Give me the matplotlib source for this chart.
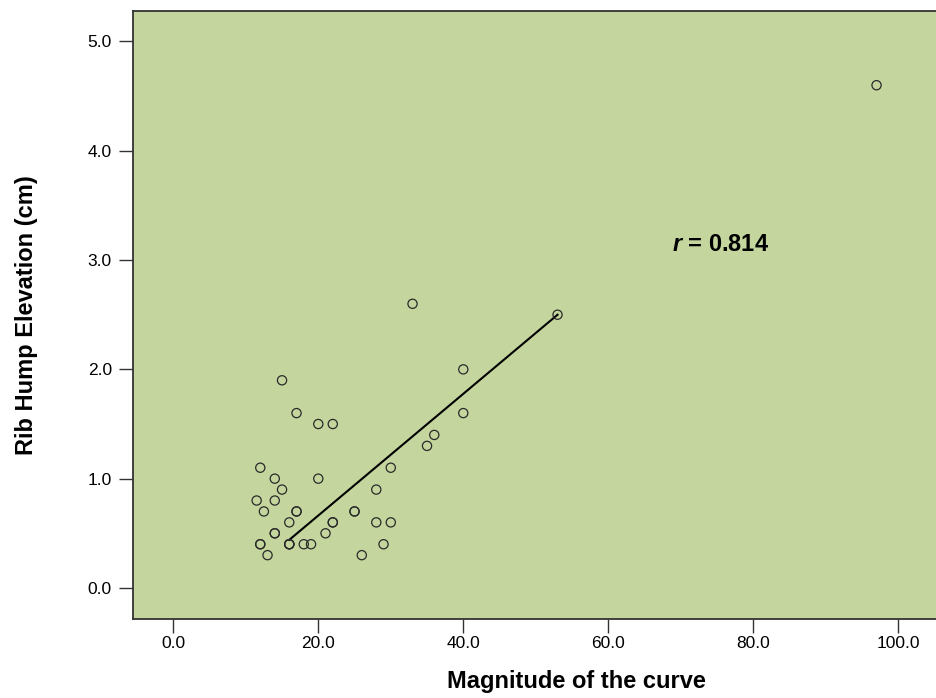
import numpy as np
import matplotlib.pyplot as plt

plt.rcParams['font.family'] = ['Liberation Sans', 'DejaVu Sans']
plt.rcParams['mathtext.fontset'] = 'custom'
plt.rcParams['mathtext.it'] = 'Liberation Sans:italic:bold'
plt.rcParams['mathtext.rm'] = 'Liberation Sans:bold'

# --- dados ---
curve = [97, 33, 53, 40, 40, 36, 35, 30, 28, 30, 28, 29, 26, 25, 25, 22, 22, 21,
         22, 20, 20, 17, 15, 19, 18, 16, 16, 16, 16, 17, 17, 15, 14, 14, 14, 14,
         12, 11.5, 12.5, 12, 12, 13]
hump = [4.6, 2.6, 2.5, 2.0, 1.6, 1.4, 1.3, 1.1, 0.9, 0.6, 0.6, 0.4, 0.3, 0.7, 0.7,
        0.6, 0.6, 0.5, 1.5, 1.5, 1.0, 1.6, 1.9, 0.4, 0.4, 0.4, 0.4, 0.4, 0.6, 0.7,
        0.7, 0.9, 1.0, 0.8, 0.5, 0.5, 1.1, 0.8, 0.7, 0.4, 0.4, 0.3]
fit_x = [16, 53]
fit_y = [0.44, 2.5]
x_ticks = [0, 20, 40, 60, 80, 100]
y_ticks = [0, 1, 2, 3, 4, 5]
r_label = '$r$ = 0.814'

fig = plt.figure(figsize=(9.37, 6.98), dpi=100)
ax = fig.add_axes([0.1416, 0.1132, 0.8584, 0.8715])
ax.set_facecolor('#c4d69e')

ax.scatter(curve, hump, s=44, facecolors='none', edgecolors='#2a2a2a', linewidths=0.9, zorder=3)
ax.plot(fit_x, fit_y, color='black', lw=1.5, zorder=2)

ax.set_xlim(-5.6, 105.34)
ax.set_ylim(-0.284, 5.282)
ax.set_xticks(x_ticks)
ax.set_yticks(y_ticks)
ax.set_xticklabels([f'{v:.1f}' for v in x_ticks])
ax.set_yticklabels([f'{v:.1f}' for v in y_ticks])
ax.tick_params(length=10, width=1, color='#333333', labelsize=12.5)
ax.tick_params(axis='x', pad=2)
ax.tick_params(axis='y', pad=5)

for side in ['left', 'bottom', 'top']:
    ax.spines[side].set_color('#333333')
    ax.spines[side].set_linewidth(1.3)
ax.spines['right'].set_visible(False)

ax.set_xlabel('Magnitude of the curve', fontsize=17, fontweight='bold')
ax.xaxis.set_label_coords(0.552, -0.084)
ax.set_ylabel('Rib Hump Elevation (cm)', fontsize=17, fontweight='bold')
ax.yaxis.set_label_coords(-0.118, 0.5)

ax.text(68.8, 3.147, r_label, fontsize=17, fontweight='bold', va='center', ha='left')

plt.savefig('out.png', dpi=100)
